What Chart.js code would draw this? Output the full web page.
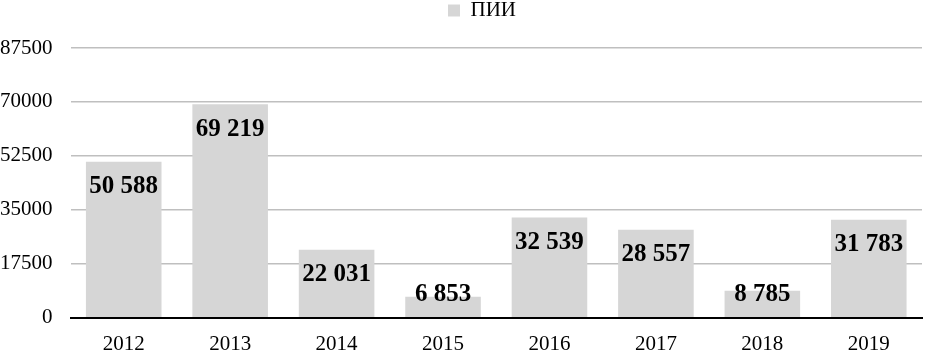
<!DOCTYPE html>
<html>
<head>
<meta charset="utf-8">
<script src="https://cdn.jsdelivr.net/npm/chart.js@4"></script>
<style>
  body { margin: 0; background: #fff; }
  #wrap { width: 928px; height: 350px; }
</style>
</head>
<body>
<div id="wrap"><canvas id="fdiChart"></canvas></div>
<script>
const years = ['2012', '2013', '2014', '2015', '2016', '2017', '2018', '2019'];
const fdiValues = [50588, 69219, 22031, 6853, 32539, 28557, 8785, 31783];
const yTicks = [0, 17500, 35000, 52500, 70000, 87500];

const serif = '"Liberation Serif", "Times New Roman", serif';

// подписи значений с пробелом-разделителем тысяч
const valueLabels = {
    id: 'valueLabels',
    afterDatasetsDraw(chart) {
        const ctx = chart.ctx;
        const meta = chart.getDatasetMeta(0);
        const yScale = chart.scales.y;
        ctx.save();
        ctx.font = 'bold 25px ' + serif;
        ctx.fillStyle = '#000';
        ctx.textAlign = 'center';
        ctx.textBaseline = 'middle';
        meta.data.forEach((bar, i) => {
            const v = fdiValues[i];
            const txt = v.toLocaleString('ru-RU').replace(/\s/g, ' ');
            const y = Math.min(bar.y + 25, yScale.getPixelForValue(0) - 23);
            ctx.fillText(txt, bar.x, y);
        });
        ctx.restore();
    }
};

// отступ под легендой и сдвиг легенды вправо (по центру области графика)
const legendGap = {
    id: 'legendGap',
    beforeInit(chart) {
        const legend = chart.legend;
        const fit = legend.fit;
        legend.fit = function () {
            fit.bind(legend)();
            this.height += 17;
        };
        const draw = legend.draw;
        legend.draw = function () {
            const c = chart.ctx;
            c.save();
            c.translate(30, 0);
            draw.bind(legend)();
            c.restore();
        };
    }
};

const ctx = document.getElementById('fdiChart').getContext('2d');
new Chart(ctx, {
    type: 'bar',
    data: {
        labels: years,
        datasets: [{
            label: 'ПИИ',
            data: fdiValues,
            backgroundColor: '#d6d6d6',
            categoryPercentage: 0.71,
            barPercentage: 1.0
        }]
    },
    options: {
        responsive: true,
        maintainAspectRatio: false,
        animation: false,
        layout: { padding: { left: -18, right: 6, top: 0, bottom: -21 } },
        plugins: {
            legend: {
                position: 'top',
                labels: {
                    font: { family: serif, size: 21 },
                    color: '#000',
                    boxWidth: 12,
                    boxHeight: 12,
                    padding: 0
                }
            },
            tooltip: { enabled: false }
        },
        scales: {
            x: {
                grid: { display: false, drawTicks: false },
                border: { color: '#000', width: 2 },
                ticks: {
                    color: '#000',
                    padding: 14,
                    font: { family: serif, size: 21 }
                }
            },
            y: {
                min: 0,
                max: 87500,
                afterBuildTicks(axis) {
                    axis.ticks = yTicks.map(v => ({ value: v }));
                },
                grid: { color: '#bfbfbf', lineWidth: 1.5, drawTicks: false },
                border: { display: false },
                ticks: {
                    color: '#000',
                    padding: 18,
                    font: { family: serif, size: 21 },
                    callback: v => String(v)
                }
            }
        }
    },
    plugins: [valueLabels, legendGap]
});
</script>
</body>
</html>
